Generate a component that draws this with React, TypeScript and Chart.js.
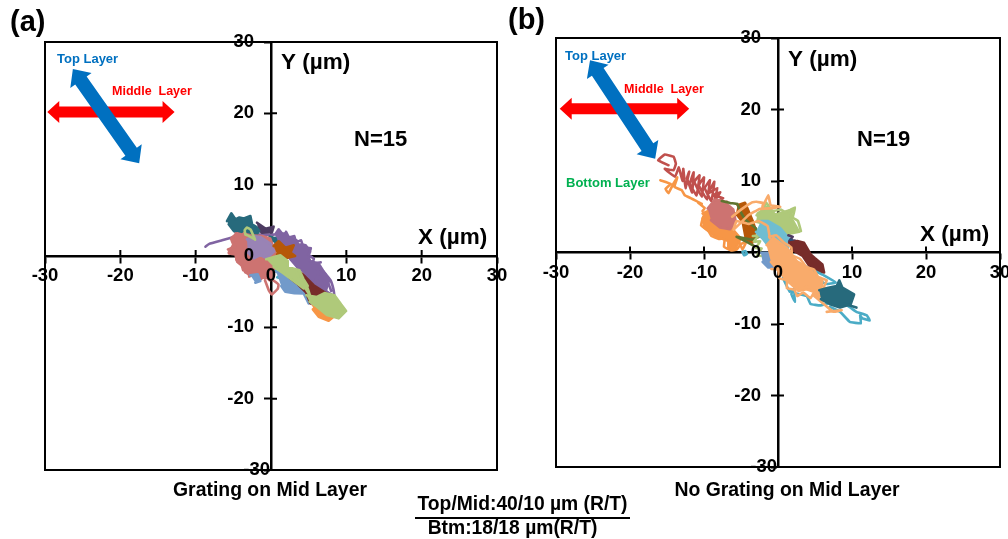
import React, { useEffect, useRef } from "react";
import { Chart, registerables } from "chart.js";

Chart.register(...registerables);

const FONT = '"Liberation Sans", Arial, sans-serif';
const tickValues = [-30, -20, -10, 0, 10, 20, 30];

// ---- Panel (a) traces, [x, y] in µm ----
const aPurpleTail = [[-8.7,1.3],[-8.2,1.7],[-6.5,2.2],[-4.8,2.7],[-3.5,3.0],[-1,3.0],[0.4,3.0]];
const aPurple = [[0.58,3.04],[1.02,3.74],[1.5,3.1],[1.9,3.2],[2.2,2.7],[2.79,2.54],[3.4,2.2],[3.6,1.6],[4.12,1.6],[4.6,1.5],[5.2,0.6],[4.9,0.1],[5.2,-0.7],[6.33,-1.07],[7.0,-2.2],[7.7,-3.4],[7.3,-4.8],[6.4,-4.9],[5.3,-3.6],[4.34,-2.2],[3.6,-1.7],[2.57,-0.43],[1.68,0.73],[0.58,1.67]];
const aPurpleEdge = [[2.0,3.4],[2.4,2.6],[3.1,2.8],[3.3,1.9],[4.0,2.2],[4.3,1.2],[5.3,1.1],[5.0,0.2],[5.7,-0.4],[5.5,-1.0],[6.6,-0.9]];
const aPurpleLoops = [[5.6,-1.6],[6.9,-2.1],[7.9,-3.4],[8.3,-4.7],[8.4,-5.6],[7.4,-5.0],[6.2,-2.8],[5.8,-3.6],[5.9,-4.2],[6.9,-5.0],[7.6,-3.8],[6.6,-2.4],[7.3,-3.0],[8.0,-4.9]];
const aDarkPurple = [[-1.86,4.67],[-0.75,3.83],[0.35,4.11],[0.13,3.36],[-1.19,3.27],[-1.77,3.83]];
const aDarkTeal = [[-5.84,4.9],[-5.27,5.98],[-4.73,5.14],[-4.2,5.4],[-3.6,5.25],[-2.74,5.61],[-2.51,4.44],[-1.97,4.1],[-1.57,3.5],[-2.32,2.47],[-3.85,2.6],[-4.33,3.2],[-4.93,3.5],[-5.62,4.44]];
const aDarkTealDot = [[0.1,2.3],[0.8,1.8],[0.6,2.5],[-0.2,2.7]];
const aLightRed = [[-5.72,0.93],[-4.73,1.31],[-5.24,2.57],[-4.49,3.18],[-3.9,3.0],[-3.4,3.1],[-2.74,2.9],[-1.2,2.8],[-0.09,2.44],[0.4,1.0],[0.91,-0.7],[0.45,-1.87],[0.1,-3.28],[-0.8,-3.0],[-1.42,-3.1],[-2.0,-2.6],[-2.72,-2.67],[-3.41,-2.3],[-3.8,-1.4],[-4.49,-0.8],[-4.73,0.23],[-5.59,0.37]];
const aLightRedEdgeTop = [[-5.6,0.5],[-5.0,1.6],[-5.3,2.4],[-4.6,2.2],[-4.7,3.2],[-4.0,2.6],[-3.6,3.2]];
const aLightRedEdgeLow = [[-4.6,-0.5],[-4.2,-1.0],[-3.9,-1.2],[-3.7,-2.0],[-3.0,-2.0],[-2.9,-2.9],[-2.1,-2.4],[-1.4,-3.3],[-0.9,-2.7],[-0.2,-3.4]];
const aRedLoop = [[-0.8,-3.4],[-0.3,-4.8],[0.1,-5.4],[0.9,-4.6],[1.0,-4.0],[0.3,-3.4],[-0.5,-3.0]];
const aBlue = [[-2.74,-2.71],[-1.77,-2.57],[-1.42,-3.5],[-2.08,-3.74]];
const aLightPurple = [[-3.2,2.34],[-2.3,2.81],[-1.42,2.67],[-0.09,1.74],[0.45,0.7],[-0.53,-0.33],[-1.42,0.13],[-2.3,-0.33],[-3.06,0.47]];
const aDarkOrange = [[0.35,1.4],[1.02,2.06],[1.9,1.17],[3.02,1.5],[2.57,0.47],[3.2,0],[1.9,-0.33],[1.46,-1.03],[0.8,0.23]];
const aAqua = [[0.6,-2.1],[1.4,-2.6],[0.8,-3.0],[1.6,-3.2]];
const aLightBlue = [[0.7,-2.24],[1.9,-2.24],[2.79,-3.4],[4.34,-3.87],[5.32,-4.9],[5.0,-6.64],[4.34,-5.24],[3.1,-5.2],[1.9,-5.0],[1.36,-4.2]];
const aDarkRed = [[2.57,-1.77],[4.12,-2.47],[5.66,-4.1],[7.75,-5.5],[7.31,-6.41],[5.22,-6.64],[4.68,-5.14],[3.57,-3.97],[2.47,-3.04]];
const aOrange = [[5.56,-6.9],[7.43,-7.6],[8.42,-8.41],[7.65,-9.07],[6.33,-8.51],[5.56,-7.48]];
const aLightGreen = [[-0.63,-0.46],[0.5,-0.1],[1.24,0.1],[2.22,-0.7],[2.22,-1.54],[3.77,-2.0],[4.3,-3.2],[4.88,-4.2],[4.34,-4.54],[3.0,-3.5],[1.68,-2.44],[0.35,-1.5]];
const aLightGreenLink = [[3.4,-2.4],[4.0,-3.8],[4.6,-4.6],[5.2,-5.6],[4.8,-4.4],[3.6,-3.4]];
const aLightGreen2 = [[4.68,-5.5],[6.1,-5.74],[7.1,-5.2],[8.42,-5.5],[9.3,-6.78],[9.97,-7.7],[8.98,-8.74],[7.43,-8.28],[6.1,-7.1],[5.12,-6.41]];
const aGreenRing = [[-3.4,3.0],[-3.5,3.6],[-3.2,4.0],[-2.7,3.7],[-2.4,3.0],[-2.1,2.3],[-2.6,2.6],[-3.1,2.9],[-3.4,3.0]];

// ---- Panel (b) traces ----
const bRedTrail = [[-14.8,12.2],[-16.2,12.9],[-15.3,13.7],[-14.1,13.4],[-13.8,12.4],[-14.1,11.5],[-15.3,11.7],[-13.9,10.6],[-13.4,11.9],[-12.9,10.0],[-12.8,11.7],[-12.5,9.0],[-12.0,11.3],[-12.3,10.4],[-11.6,8.4],[-11.4,11.2],[-11.9,9.6],[-11.0,8.0],[-10.6,10.8],[-11.3,9.9],[-10.3,7.8],[-10.0,10.5],[-10.7,9.4],[-9.6,7.4],[-9.2,10.1],[-9.9,9.0],[-9.0,7.2],[-8.6,9.9],[-9.4,8.3],[-8.2,9.0],[-8.6,7.2],[-7.8,8.4],[-8.8,8.0],[-7.4,7.6],[-8.6,6.9],[-6.9,7.1]];
const bOrangeTail = [[-15.9,10.1],[-14.5,9.6],[-15.2,8.9],[-14.8,8.3],[-14.2,9.5],[-13.6,10.5],[-14.0,9.2],[-13.0,8.7],[-12.6,8.0],[-11.8,7.6],[-11.2,7.3],[-10.3,6.8],[-10.8,7.0],[-9.9,6.2],[-10.2,5.8]];
const bOrange = [[-10.19,5.45],[-8.96,6.02],[-6.49,3.69],[-5.04,1.96],[-5.81,0.46],[-6.68,0.69],[-6.71,1.62],[-8.51,2.32],[-9.96,3.49],[-10.19,4.8]];
const bOrangeLoops = [[-10.1,5.0],[-10.4,3.8],[-9.4,3.0],[-9.0,2.3],[-8.0,1.9],[-7.2,2.0],[-7.3,0.8],[-6.4,0.3],[-5.6,0.4],[-5.0,1.2],[-4.3,1.5],[-4.8,0.4],[-5.3,1.6]];
const bLightRed = [[-9.51,6.15],[-8.51,7.42],[-7.39,7.19],[-6.04,6.02],[-5.71,4.29],[-6.49,3.26],[-7.84,3.49],[-9.06,4.52]];
const bDarkOrange = [[-5.46,6.62],[-4.46,6.95],[-3.46,4.52],[-3.01,3.12],[-3.46,1.39],[-4.33,1.86],[-4.78,4.29],[-5.69,5.45]];
const bDarkGreen = [[-7.6,7.2],[-6.4,6.9],[-5.5,6.8],[-5.2,6.0],[-4.4,4.6],[-3.6,3.9],[-3.0,3.4],[-2.6,2.2],[-3.6,1.8],[-5.6,2.2],[-4.4,1.6],[-3.2,0.9]];
const bLightGreen = [[-2.76,5.45],[-1.31,6.49],[-0.41,5.32],[1.95,6.02],[1.72,4.99],[2.85,2.89],[1.17,2.56],[-0.18,3.49],[-1.53,3.96],[-2.98,4.29]];
const bLightGreenEdge = [[-2.9,5.2],[-2.0,5.9],[-1.6,7.0],[-0.8,5.8],[0.4,6.0],[1.0,5.6],[2.3,6.3],[2.0,4.9],[2.7,4.4],[3.1,3.0]];
const bGreen = [[-3.4,2.3],[-2.6,2.4],[-3.3,1.5],[-2.4,1.6],[-3.0,0.6],[-2.2,0.6],[-2.8,-0.4],[-2.0,-0.5]];
const bLightAqua = [[-2.31,4.39],[-1.31,4.39],[0.27,3.46],[1.5,1.96],[1.27,0.23],[-0.63,-0.01],[-2.08,1.96],[-2.98,2.89]];
const bLightBlue = [[-2.31,-0.04],[-0.86,-0.04],[0.6,-1.07],[0.15,-2.1],[-1.31,-2.1],[-2.08,-1.31]];
const bDarkPurple = [[1.4,2.4],[2.0,2.2],[1.5,1.6],[2.3,1.7],[1.7,1.0]];
const bDarkBlue = [[1.7,1.8],[2.6,1.2],[1.9,0.8]];
const bDarkRed = [[1.52,1.36],[2.6,1.6],[3.52,1.36],[4.42,-0.27],[5.0,-0.8],[6.0,-1.67],[6.23,-2.8],[4.67,-2.57],[3.32,-0.47],[1.75,0.46]];
const bAqua = [[0.7,-0.2],[2.0,-1.0],[3.4,-1.8],[5.0,-2.6],[6.2,-3.2],[7.8,-4.2],[6.4,-4.4],[5.0,-3.4],[3.8,-3.6],[2.4,-2.5],[0.9,-2.4],[0.7,-3.6],[1.6,-5.5],[2.5,-4.8],[1.8,-5.8],[2.3,-6.9],[2.2,-5.7],[3.9,-6.1],[4.4,-7.2],[5.7,-7.4],[7.4,-7.0],[9.3,-7.4],[10.6,-8.3],[12.0,-8.8],[12.4,-9.5],[11.4,-9.2],[11.1,-8.8],[11.2,-9.9],[9.7,-9.7],[8.4,-8.3],[7.0,-7.6]];
const bLightOrangeSpikes = [[-6.2,5.0],[-5.0,6.0],[-3.5,7.0],[-2.9,7.1],[-2.0,6.9],[-2.1,6.4],[-1.3,8.0],[-1.0,6.6],[0.3,6.4],[-0.8,6.2],[-2.5,6.1],[-4.0,5.2],[-6.0,3.2],[-5.6,4.4],[-3.9,4.0],[-2.6,4.4],[-1.4,3.7],[-1.1,2.0]];
const bLightOrange = [[-1.54,1.03],[-0.63,2.06],[1.17,0.66],[2.52,-1.21],[4.32,-2.37],[6.0,-4.0],[5.78,-5.83],[3.87,-5.13],[2.75,-5.37],[1.52,-4.2],[0.4,-2.94],[-0.96,-1.31]];
const bLightOrangeEdge = [[-1.2,2.2],[-0.2,2.4],[0.8,1.4],[1.8,0.7],[1.9,-0.4],[3.0,-0.9],[3.8,-2.0],[4.9,-2.4],[5.4,-3.4],[6.6,-3.9],[6.2,-4.8],[6.6,-5.4],[5.8,-6.1],[4.8,-5.7],[4.4,-6.4],[3.4,-5.6],[2.6,-6.1],[2.2,-5.2],[1.2,-5.0],[1.2,-3.9],[0.2,-3.6],[0.0,-2.4],[-0.9,-2.3]];
const bLightOrangeTail = [[2.97,-5.03],[4.32,-4.8],[5.9,-6.9],[4.77,-5.97],[7.48,-8.3],[8.6,-8.07],[6.58,-8.3]];
const bDarkTeal = [[5.58,-5.27],[6.8,-4.93],[7.93,-4.7],[8.29,-3.9],[8.7,-4.93],[10.28,-5.87],[9.83,-7.23],[8.38,-7.7],[7.03,-7.23],[5.8,-6.53]];
const bDarkTealSpur = [[9.0,-7.2],[10.6,-7.7]];
const bRing = [[-4.8,0.1],[-4.4,0.2],[-4.2,-0.2],[-4.6,-0.4],[-4.8,0.1]];

const C = {
  blue: "#4F81BD", red: "#C0504D", green: "#9BBB59", purple: "#8064A2", aqua: "#4BACC6", orange: "#F79646",
  darkBlue: "#2C4D75", darkRed: "#772C2A", darkGreen: "#5F7530", darkPurple: "#4D3B62", darkTeal: "#276A7C", darkOrange: "#B65708",
  lightBlue: "#729ACA", lightRed: "#CD7371", lightGreen: "#AFC97A", lightPurple: "#9983B5", lightAqua: "#6FBDD1", lightOrange: "#F9AB6B",
};

const F = true; // closed scribble drawn solid
const L = false; // open trail

const tracesA: any[] = [
  [aPurpleTail, C.purple, L], [aPurple, C.purple, F], [aPurpleEdge, C.purple, L], [aPurpleLoops, C.purple, L], [aDarkPurple, C.darkPurple, F],
  [aDarkTeal, C.darkTeal, F], [aDarkTealDot, C.darkTeal, F], [aLightRed, C.lightRed, F], [aLightRedEdgeTop, C.lightRed, L], [aLightRedEdgeLow, C.lightRed, L], [aRedLoop, C.lightRed, L],
  [aBlue, C.lightBlue, F], [aLightPurple, C.lightPurple, F], [aDarkOrange, C.darkOrange, F], [aAqua, C.aqua, L],
  [aLightBlue, C.lightBlue, F], [aDarkRed, C.darkRed, F], [aOrange, C.orange, F], [aLightGreen, C.lightGreen, F],
  [aLightGreenLink, C.lightGreen, L], [aLightGreen2, C.lightGreen, F], [aGreenRing, C.lightGreen, L],
];
const tracesB: any[] = [
  [bRedTrail, C.red, L], [bOrangeTail, C.orange, L], [bOrange, C.orange, F], [bOrangeLoops, C.orange, L], [bLightRed, C.lightRed, F],
  [bDarkOrange, C.darkOrange, F], [bDarkGreen, C.darkGreen, L], [bLightGreen, C.lightGreen, F], [bLightGreenEdge, C.lightGreen, L], [bGreen, C.lightGreen, L],
  [bLightAqua, C.lightAqua, F], [bLightBlue, C.lightBlue, F], [bDarkPurple, C.darkPurple, L], [bDarkBlue, C.darkBlue, L],
  [bDarkRed, C.darkRed, F], [bAqua, C.aqua, L], [bLightOrangeSpikes, C.lightOrange, L], [bLightOrange, C.lightOrange, F], [bLightOrangeEdge, C.lightOrange, L],
  [bLightOrangeTail, C.lightOrange, L], [bDarkTeal, C.darkTeal, F], [bDarkTealSpur, C.darkTeal, L], [bRing, C.aqua, L],
];

type Txt = [string, number, number, string, string, CanvasTextAlign?];

const panelA = {
  left: 0, width: 520, padding: { left: 45, right: 23, top: 42, bottom: 69 },
  traces: tracesA,
  blueArrow: [[-26.3, 26.2], [-17.5, 13.0]],
  redArrow: [[-29.7, 20.2], [-12.8, 20.2]],
  texts: [
    ["(a)", 10, 23, "bold 29px", "#000"],
    ["Top Layer", 57, 59, "bold 13px", "#0070C0"],
    ["Middle  Layer", 112, 92, "bold 12.5px", "#FF0000"],
    ["Y (µm)", 281, 63, "bold 22.5px", "#000"],
    ["N=15", 354, 140, "bold 22px", "#000"],
    ["X (µm)", 418, 238, "bold 22.5px", "#000"],
    ["Grating on Mid Layer", 270, 491, "bold 19.4px", "#000", "center"],
  ] as Txt[],
};
const panelB = {
  left: 504, width: 520, padding: { left: 52, right: 24, top: 38, bottom: 72 },
  traces: tracesB,
  blueArrow: [[-25.4, 26.9], [-16.6, 13.1]],
  redArrow: [[-29.5, 20.1], [-12, 20.1]],
  texts: [
    ["(b)", 4, 21, "bold 29px", "#000"],
    ["Top Layer", 61, 56, "bold 13px", "#0070C0"],
    ["Middle  Layer", 120, 90, "bold 12.5px", "#FF0000"],
    ["Bottom Layer", 62, 183, "bold 13px", "#00B050"],
    ["Y (µm)", 284, 60, "bold 22.5px", "#000"],
    ["N=19", 353, 140, "bold 22px", "#000"],
    ["X (µm)", 416, 235, "bold 22.5px", "#000"],
    ["No Grating on Mid Layer", 283, 491, "bold 19.4px", "#000", "center"],
  ] as Txt[],
};

function drawArrow(ctx: CanvasRenderingContext2D, x0: number, y0: number, x1: number, y1: number, color: string, shaft: number, headW: number, headL: number) {
  const len = Math.hypot(x1 - x0, y1 - y0);
  ctx.save();
  ctx.translate(x0, y0);
  ctx.rotate(Math.atan2(y1 - y0, x1 - x0));
  ctx.fillStyle = color;
  ctx.beginPath();
  ctx.moveTo(0, 0);
  ctx.lineTo(headL, -headW / 2);
  ctx.lineTo(headL, -shaft / 2);
  ctx.lineTo(len - headL, -shaft / 2);
  ctx.lineTo(len - headL, -headW / 2);
  ctx.lineTo(len, 0);
  ctx.lineTo(len - headL, headW / 2);
  ctx.lineTo(len - headL, shaft / 2);
  ctx.lineTo(headL, shaft / 2);
  ctx.lineTo(headL, headW / 2);
  ctx.closePath();
  ctx.fill();
  ctx.restore();
}

function makePlugin(panel: typeof panelA) {
  return {
    id: "panelDecor",
    beforeDatasetsDraw(chart: any) {
      const { ctx, chartArea: a, scales } = chart;
      ctx.save();
      ctx.strokeStyle = "#000";
      ctx.lineWidth = 2;
      ctx.strokeRect(a.left, a.top, a.right - a.left, a.bottom - a.top);
      const x0 = scales.x.getPixelForValue(0);
      const y0 = scales.y.getPixelForValue(0);
      ctx.beginPath();
      for (const v of tickValues) {
        if (v === 0 || Math.abs(v) === 30) continue;
        const px = scales.x.getPixelForValue(v);
        ctx.moveTo(px, y0 - 6);
        ctx.lineTo(px, y0);
        const py = scales.y.getPixelForValue(v);
        ctx.moveTo(x0, py);
        ctx.lineTo(x0 + 6, py);
      }
      ctx.stroke();
      ctx.restore();
    },
    afterDraw(chart: any) {
      const { ctx, scales } = chart;
      const px = (p: number[]) => [scales.x.getPixelForValue(p[0]), scales.y.getPixelForValue(p[1])];
      const [r0, r1] = panel.redArrow.map(px);
      drawArrow(ctx, r0[0], r0[1], r1[0], r1[1], "#FF0000", 11, 22, 12);
      const [b0, b1] = panel.blueArrow.map(px);
      drawArrow(ctx, b0[0], b0[1], b1[0], b1[1], "#0070C0", 14, 26, 14);
      ctx.save();
      ctx.textBaseline = "middle";
      // y-axis labels: a centred Chart.js axis would butt them against the line
      ctx.font = `bold 18.5px ${FONT}`;
      ctx.fillStyle = "#000";
      ctx.textAlign = "right";
      for (const t of scales.y.ticks) {
        const inset = t.value === -30 ? 1 : 17; // the lowest label sits almost against the axis in the reference
        ctx.fillText(String(t.value), scales.x.getPixelForValue(0) - inset, scales.y.getPixelForValue(t.value));
      }
      for (const [s, x, y, f, color, align] of panel.texts) {
        ctx.font = `${f} ${FONT}`;
        ctx.fillStyle = color;
        ctx.textAlign = align || "left";
        ctx.fillText(s, x, y);
      }
      ctx.restore();
    },
  };
}

function axis(cross: "x" | "y") {
  return {
    type: "linear",
    min: -30,
    max: 30,
    position: cross === "y" ? { y: 0 } : { x: 0 },
    border: { color: "#000", width: 2.5 },
    grid: { drawOnChartArea: false, drawTicks: true, tickLength: 6, tickColor: "#000", tickWidth: 2 },
    ticks: {
      display: cross === "y",
      stepSize: 10,
      autoSkip: false,
      maxRotation: 0,
      color: "#000",
      padding: 3,
      z: 1,
      font: { family: FONT, size: 18.5, weight: "bold" },
    },
  };
}

function Panel({ panel }: { panel: typeof panelA }) {
  const ref = useRef<HTMLCanvasElement>(null);
  useEffect(() => {
    const chart = new Chart(ref.current as HTMLCanvasElement, {
      type: "scatter",
      data: {
        datasets: panel.traces.map(([pts, color, solid]: any, i: number) => ({
          data: pts.map((p: number[]) => ({ x: p[0], y: p[1] })),
          showLine: true,
          borderColor: color,
          backgroundColor: color,
          borderWidth: 2.6,
          borderJoinStyle: "round",
          borderCapStyle: "round",
          tension: solid ? 0 : 0.08,
          fill: solid ? "shape" : false,
          pointRadius: 0,
          order: -i,
        })),
      },
      options: {
        animation: false,
        responsive: false,
        layout: { padding: panel.padding },
        plugins: { legend: { display: false }, tooltip: { enabled: false } },
        scales: { x: axis("y"), y: axis("x") },
      } as any,
      plugins: [makePlugin(panel)],
    } as any);
    return () => chart.destroy();
  }, [panel]);
  return (
    <canvas
      ref={ref}
      width={panel.width}
      height={539}
      style={{ position: "absolute", left: panel.left, top: 0, width: panel.width, height: 539 }}
    />
  );
}

export default function App() {
  const cap: React.CSSProperties = { position: "absolute", textAlign: "center", fontFamily: FONT, fontWeight: "bold", fontSize: 19.3, lineHeight: "22px", color: "#000", whiteSpace: "pre" };
  return (
    <div style={{ position: "fixed", left: 0, top: 0, width: 1008, height: 539, overflow: "hidden", background: "#fff" }}>
      <Panel panel={panelA} />
      <Panel panel={panelB as any} />
      <div style={{ ...cap, left: 415, width: 215, top: 493 }}>Top/Mid:40/10 µm (R/T)</div>
      <div style={{ position: "absolute", left: 415, width: 215, top: 517, height: 2, background: "#000" }} />
      <div style={{ ...cap, left: 405, width: 215, top: 517 }}>Btm:18/18 µm(R/T)</div>
    </div>
  );
}
